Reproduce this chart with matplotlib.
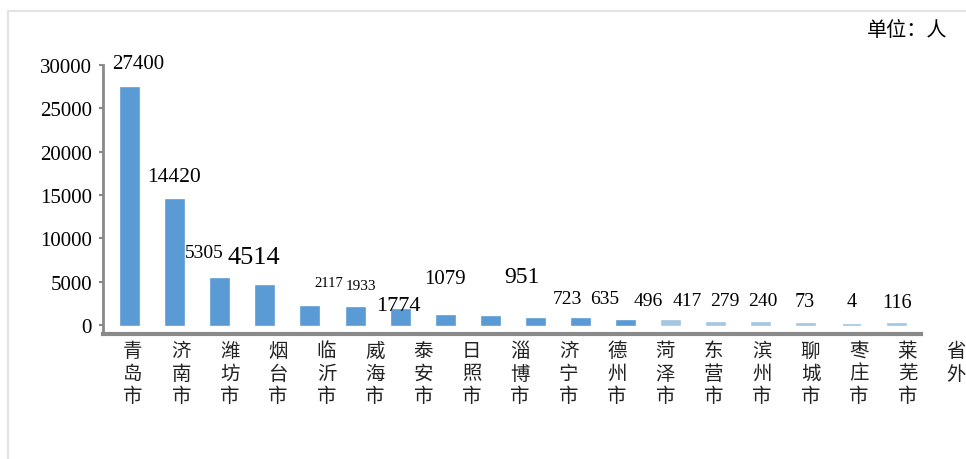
import matplotlib
matplotlib.use('Agg')
import matplotlib.pyplot as plt
from matplotlib.lines import Line2D

plt.rcParams['font.family'] = ['Liberation Serif', 'Noto Sans CJK SC']

####################################################################################################
# data

cities = ['青岛市', '济南市', '潍坊市', '烟台市', '临沂市', '威海市', '泰安市', '日照市', '淄博市',
          '济宁市', '德州市', '菏泽市', '东营市', '滨州市', '聊城市', '枣庄市', '莱芜市', '省外']
values = [27400, 14420, 5305, 4514, 2117, 1933, 1774, 1079, 951,
          723, 635, 496, 417, 279, 240, 73, 4, 116]

# label placement (the original picture has its labels scattered around)
label_dx = [0.18, -0.02, -0.36, -0.25, 0.41, 0.12, -0.04, -0.02, 0.69,
            0.69, 0.53, 0.49, 0.35, 0.20, 0.04, -0.03, 0.0, 0.0]
label_dy = [2720, 2660, 3115, 3340, 2840, 2570, 450, 4230, 4590,
            2280, 2365, 2275, 2355, 2490, 2530, 2580, 2650, 2535]
label_fs = [15, 15.5, 14, 19, 10.5, 11, 16, 15, 17,
            14, 14, 14, 14, 14, 14, 14.5, 14.5, 14.5]

yticks = [0, 5000, 10000, 15000, 20000, 25000, 30000]

####################################################################################################

W, H = 966, 460
fig = plt.figure(figsize=(W / 100, H / 100), dpi=100)
ax = fig.add_axes([103 / W, (H - 335) / H, (921 - 103) / W, (335 - 66) / H])

blue = '#5b9bd5'
pale = '#a3c6e2'
colors = [blue if v >= 450 else pale for v in values]
x = list(range(len(values)))
ax.bar(x, values, width=0.4, color=colors, edgecolor=colors, linewidth=1.2)

for i, v in enumerate(values):
    ax.text(i + label_dx[i], v + label_dy[i], str(v), ha='center', va='center',
            fontsize=label_fs[i], color='black')

ax.set_xlim(-0.6, 17.54)
ax.set_ylim(-1040, 30000)
ax.set_yticks(yticks)
ax.set_yticklabels([str(t) for t in yticks], fontsize=15)
ax.set_xticks([])
ax.tick_params(axis='y', direction='out', length=3, width=1.5, color='#898989', pad=5)

for s in ['top', 'right']:
    ax.spines[s].set_visible(False)
ax.spines['left'].set_color('#898989')
ax.spines['left'].set_linewidth(2)
ax.spines['bottom'].set_color('#898989')
ax.spines['bottom'].set_linewidth(3)

# category names, written vertically
for j, name in enumerate(cities):
    fig.text((133 + 48.4 * j) / W, (H - 341) / H, '\n'.join(name), ha='center', va='top',
             fontsize=14, linespacing=1.1, color='#222222',
             family=['Noto Sans CJK SC', 'DejaVu Sans'])

fig.text(947 / W, (H - 31) / H, '单位：人', ha='right', va='center', fontsize=14.5,
         family=['Noto Sans CJK SC', 'DejaVu Sans'])

# light frame around the picture
fig.add_artist(Line2D([8 / W, 1], [(H - 12) / H] * 2, color='#e3e3e3', linewidth=1.5,
                      transform=fig.transFigure))
fig.add_artist(Line2D([8 / W] * 2, [0, (H - 12) / H], color='#e3e3e3', linewidth=1.5,
                      transform=fig.transFigure))

fig.savefig('out.png', dpi=100)
